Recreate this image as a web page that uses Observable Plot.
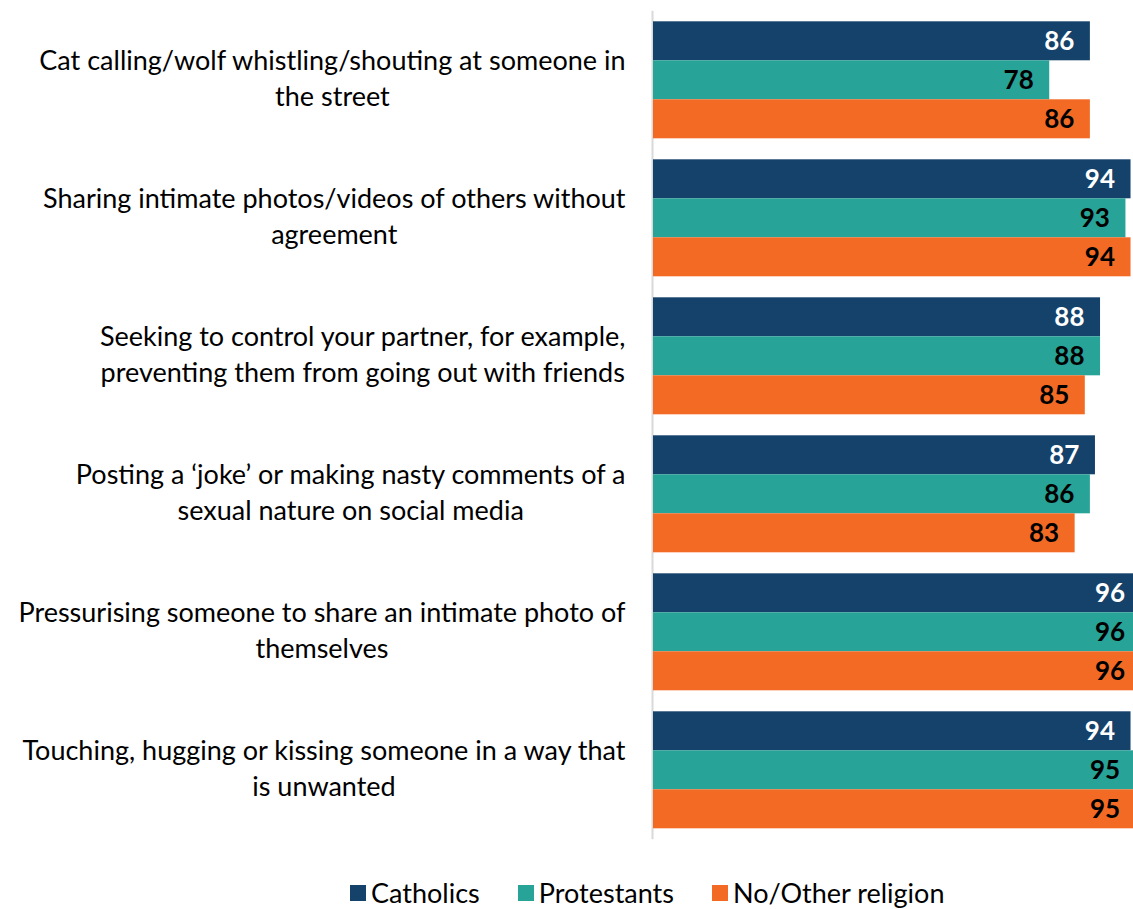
<!DOCTYPE html>
<html>
<head>
<meta charset="utf-8">
<script src="https://cdn.jsdelivr.net/npm/d3@7"></script>
<script src="https://cdn.jsdelivr.net/npm/@observablehq/plot@0.6"></script>
<style>
  html, body { margin: 0; padding: 0; background: #fff; overflow: hidden; }
  #chart { position: relative; width: 1133px; height: 909px; font-family: Lato, "Open Sans", sans-serif; }
  #legend { position: absolute; left: 350px; top: 876px; display: flex; align-items: center; font-size: 27px; line-height: 34px; color: #000; }
  #legend .item { display: flex; align-items: center; margin-right: 38px; }
  #legend .sw { width: 16px; height: 16px; margin-right: 5px; }
</style>
</head>
<body>
<div id="chart"></div>
<script>
const categories = [
  "Cat calling/wolf whistling/shouting at someone in\nthe street",
  "Sharing intimate photos/videos of others without\nagreement",
  "Seeking to control your partner, for example,\npreventing them from going out with friends",
  "Posting a ‘joke’ or making nasty comments of a\nsexual nature on social media",
  "Pressurising someone to share an intimate photo of\nthemselves",
  "Touching, hugging or kissing someone in a way that\nis unwanted"
];
const series = ["Catholics", "Protestants", "No/Other religion"];
const catholics = [86, 94, 88, 87, 96, 94];
const protestants = [78, 93, 88, 86, 96, 95];
const noOther = [86, 94, 85, 83, 96, 95];
const colors = ["#15426b", "#27a397", "#f36a25"];

const valuesBySeries = [catholics, protestants, noOther];
const rows = [];
categories.forEach((c, i) => {
  series.forEach((s, j) => rows.push({cat: c, series: s, value: valuesBySeries[j][i]}));
});

const fontFam = "Lato, 'Open Sans', sans-serif";

const chart = Plot.plot({
  width: 1133,
  height: 850,
  marginLeft: 653,
  marginRight: -28,
  marginTop: 19.7,
  marginBottom: 19.5,
  style: {fontFamily: fontFam, background: "transparent", overflow: "hidden"},
  x: {domain: [0, 100], axis: null},
  y: {domain: series, padding: 0, axis: null},
  fy: {domain: categories, paddingInner: 0.146, paddingOuter: 0, axis: null},
  color: {domain: series, range: colors},
  marks: [
    Plot.ruleX([0], {stroke: "#d9d9d9", strokeWidth: 2, dx: -1, insetTop: -10.2, insetBottom: -10.2}),
    Plot.barX(rows, {fy: "cat", y: "series", x: "value", fill: "series"}),
    Plot.text(rows.filter(d => d.series === "Catholics"), {
      fy: "cat", y: "series", x: "value", text: d => String(d.value),
      textAnchor: "end", dx: -16, fill: "white", fontWeight: "bold", fontSize: 26
    }),
    Plot.text(rows.filter(d => d.series !== "Catholics"), {
      fy: "cat", y: "series", x: "value", text: d => String(d.value),
      textAnchor: "end", dx: -16, fill: "black", fontWeight: "bold", fontSize: 26
    }),
    Plot.text(categories, {
      fy: d => d, text: d => d, frameAnchor: "left", dx: -28, dy: -4,
      textAnchor: "end", lineAnchor: "middle", fontSize: 27, lineHeight: 36 / 27,
      fill: "black", ariaLabel: () => "catlabel"
    })
  ]
});

const root = document.getElementById("chart");
root.appendChild(chart);

// center each label's lines within its right-aligned block
chart.querySelectorAll('text[aria-label="catlabel"]').forEach(t => {
  const spans = Array.from(t.querySelectorAll("tspan"));
  if (!spans.length) return;
  const maxW = Math.max(...spans.map(s => s.getComputedTextLength()));
  t.setAttribute("text-anchor", "middle");
  t.style.textAnchor = "middle";
  spans.forEach(s => s.setAttribute("x", -maxW / 2));
});

const legend = document.createElement("div");
legend.id = "legend";
series.forEach((s, i) => {
  const item = document.createElement("div");
  item.className = "item";
  const sw = document.createElement("span");
  sw.className = "sw";
  sw.style.background = colors[i];
  const lab = document.createElement("span");
  lab.textContent = s;
  item.appendChild(sw);
  item.appendChild(lab);
  legend.appendChild(item);
});
root.appendChild(legend);
</script>
</body>
</html>
